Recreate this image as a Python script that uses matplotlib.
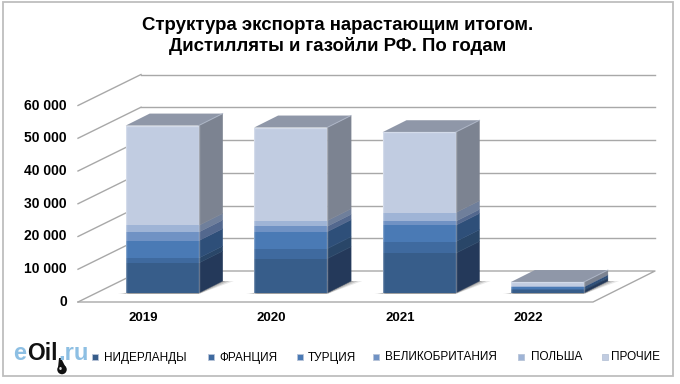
#coding:utf-8
import matplotlib
matplotlib.use('Agg')
import matplotlib.pyplot as plt
from matplotlib.patches import Polygon, Rectangle, Ellipse

plt.rcParams['font.family'] = ['Liberation Sans', 'DejaVu Sans']

years = ['2019', '2020', '2021', '2022']
niderlandy = [9150, 10470, 12090, 800]
franciya = [1500, 3050, 3560, 300]
turciya = [5300, 5180, 4980, 700]
britaniya = [2640, 1630, 1220, 100]
polsha = [2030, 1730, 2640, 100]
prochie = [30500, 28460, 24600, 1350]

series = [niderlandy, franciya, turciya, britaniya, polsha, prochie]
series_names = ['НИДЕРЛАНДЫ', 'ФРАНЦИЯ', 'ТУРЦИЯ', 'ВЕЛИКОБРИТАНИЯ', 'ПОЛЬША', 'ПРОЧИЕ']
front_colors = ['#375D8A', '#3F6A9F', '#4A7AB5', '#7092C4', '#9FB4D6', '#C1CCE1']
side_colors = ['#24395A', '#294668', '#2E4F79', '#53688E', '#6F7F9B', '#7C8391']
top_color = '#8F97A8'
y_ticks = [0, 10000, 20000, 30000, 40000, 50000, 60000]
y_labels = ['0', '10 000', '20 000', '30 000', '40 000', '50 000', '60 000']

W, H = 680, 384
# размеры: пикселей на категорию и на 10000
cat_px = 128.4
val_px = 32.75
x0_px = 162.2
y0_px = 293.0
PX = 1.0 / cat_px
PY = 10000.0 / val_px


def fx(x):
    return x / W


def fy(y):
    return 1 - y / H


def xd(x):
    return (x - x0_px) * PX


fig = plt.figure(figsize=(W / 100, H / 100), dpi=100)
ax = fig.add_axes([0, 0, 1, 1])
ax.set_xlim(xd(0), xd(W))
ax.set_ylim((y0_px - H) * PY, y0_px * PY)
ax.axis('off')

# рамка
fig.add_artist(Rectangle((fx(3), fy(376)), (673 - 3) / W, (376 - 2) / H, transform=fig.transFigure,
                         fill=False, edgecolor='#BEBEBE', linewidth=1.3))

# сетка: задняя стенка и левая стенка
grid_c = '#A8A8A8'
wall_l, wall_b, wall_r = xd(78), xd(141), xd(655)
for v in y_ticks:
    y_f = v - 9 * PY
    y_b = v + 22 * PY
    if v > 0:
        ax.plot([wall_b, wall_r], [y_b, y_b], color=grid_c, lw=1.0, zorder=1)
    ax.plot([wall_l, wall_b], [y_f, y_b], color=grid_c, lw=1.0, zorder=1)

# пол
ax.plot([wall_l, xd(593), wall_r, wall_b], [-9 * PY, -9 * PY, 22 * PY, 22 * PY],
        color=grid_c, lw=1.0, zorder=1)

bar_w = 73 * PX
dx = 24 * PX
dy = 12 * PY

for i in range(len(years)):
    left = i - bar_w / 2
    right = i + bar_w / 2
    # тень на полу
    for k, a in zip([8, 5, 2], [0.12, 0.2, 0.3]):
        ax.add_patch(Polygon([(left - k * PX, -1 * PY), (right, -1 * PY),
                              (right + dx + k * 1.4 * PX, dy),
                              (right, dy)],
                             facecolor='#444444', edgecolor='none', alpha=a, zorder=2))
    bottom = 0
    for j in range(len(series)):
        v = series[j][i]
        ax.bar(i, v, width=bar_w, bottom=bottom, color=front_colors[j], linewidth=0, zorder=4)
        ax.add_patch(Polygon([(right, bottom), (right + dx, bottom + dy),
                              (right + dx, bottom + v + dy), (right, bottom + v)],
                             facecolor=side_colors[j], edgecolor=side_colors[j], linewidth=0.3, zorder=3))
        bottom += v
    ax.add_patch(Polygon([(left, bottom), (right, bottom), (right + dx, bottom + dy), (left + dx, bottom + dy)],
                         facecolor=top_color, edgecolor='none', zorder=3))
    # светлый кант
    ax.plot([left, left, right, right], [0, bottom, bottom, 0], color='#FFFFFF', alpha=0.3, lw=1.0, zorder=5)
    ax.plot([right, right + dx], [bottom, bottom + dy], color='#B9C2D4', alpha=0.6, lw=0.8, zorder=5)

# подписи оси Y
for v, lab in zip(y_ticks, y_labels):
    ax.text(xd(67), v - 9 * PY, lab, ha='right', va='center', fontsize=10, fontweight='bold', color='black', zorder=6)

# подписи оси X
for i, lab in enumerate(years):
    ax.text(i - 19 * PX, -25 * PY, lab, ha='center', va='center', fontsize=9.5, fontweight='bold', color='black')

# заголовок
fig.text(fx(338), fy(25), 'Структура экспорта нарастающим итогом.', ha='center', va='center',
         fontsize=13.4, fontweight='bold')
fig.text(fx(338), fy(46), 'Дистилляты и газойли РФ. По годам', ha='center', va='center',
         fontsize=13.4, fontweight='bold')

# легенда
marker_x = [95, 211, 300, 376, 521, 605]
text_x = [104, 219, 308, 385, 531, 611]
for j in range(len(series_names)):
    fig.add_artist(Rectangle((fx(marker_x[j] - 3), fy(360)), 6 / W, 6 / H, transform=fig.transFigure,
                             facecolor=front_colors[j], edgecolor='#B8C4D8', linewidth=0.6))
    fig.text(fx(text_x[j]), fy(357.5), series_names[j], ha='left', va='center', fontsize=8.5, color='black')

# логотип
fig.text(fx(13), fy(360), 'e', fontsize=17, fontweight='bold', color='#8DBFE3', ha='left', va='baseline')
fig.text(fx(27), fy(360), 'Oil', fontsize=16.5, fontweight='bold', color='#111111', ha='left', va='baseline')
fig.text(fx(58), fy(360), '.ru', fontsize=17, fontweight='bold', color='#8DBFE3', ha='left', va='baseline')
fig.add_artist(Polygon([(fx(59), fy(358)), (fx(61), fy(358)), (fx(66), fy(368)), (fx(58), fy(368))],
                       transform=fig.transFigure, facecolor='#111111', edgecolor='none'))
fig.add_artist(Ellipse((fx(62), fy(369.5)), 9.5 / W, 9.5 / H, transform=fig.transFigure,
                       facecolor='#111111', edgecolor='none'))
fig.add_artist(Ellipse((fx(60.5), fy(368.5)), 2.5 / W, 3 / H, transform=fig.transFigure,
                       facecolor='#DDDDDD', edgecolor='none'))

plt.savefig('out.png', dpi=100)
